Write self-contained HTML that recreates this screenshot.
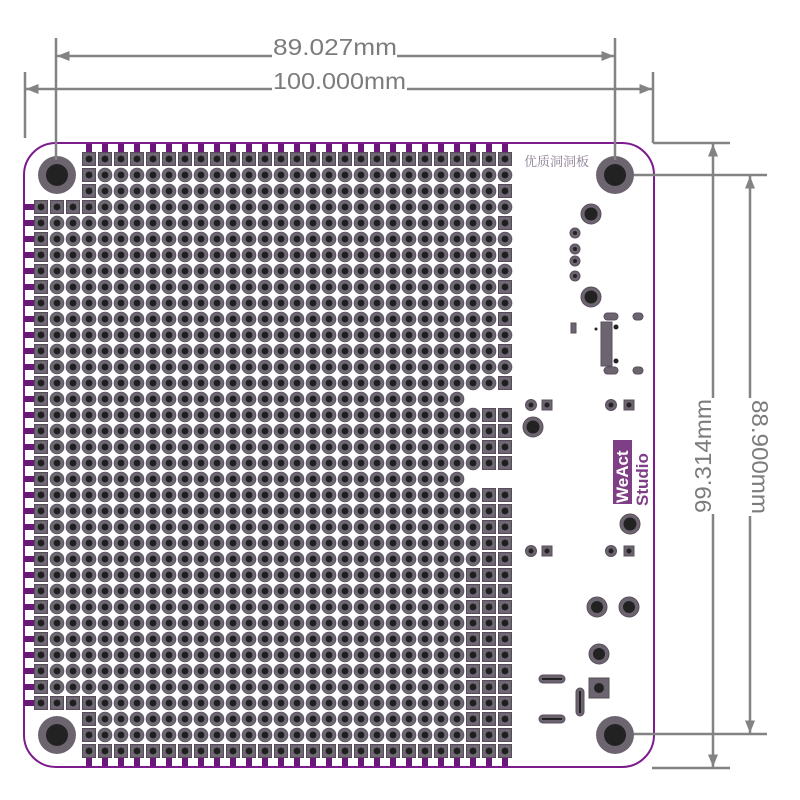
<!DOCTYPE html>
<html><head><meta charset="utf-8"><style>
html,body{margin:0;padding:0;background:#fff;width:800px;height:800px;overflow:hidden}
svg{display:block}
</style></head><body>
<svg id="s" width="800" height="800" viewBox="0 0 800 800" xmlns="http://www.w3.org/2000/svg">
<defs>
<marker id="ar" viewBox="0 0 10 10" refX="10" refY="5" markerWidth="5" markerHeight="5" orient="auto-start-reverse"><path d="M0,1 L10,5 L0,9 z" fill="#838383"/></marker>
</defs>
<rect x="24" y="143" width="630" height="624" rx="32" fill="#fff" stroke="#7b1b8c" stroke-width="2"/>
<g id="tabs" fill="#6a1878"></g>
<g id="pads"></g>
<g fill="#6c6570">
<circle cx="57" cy="175" r="19"/><circle cx="615" cy="175" r="19"/>
<circle cx="57" cy="735" r="19"/><circle cx="615" cy="735" r="19"/>
</g>
<g fill="#222">
<circle cx="57" cy="175" r="11"/><circle cx="615" cy="175" r="11"/>
<circle cx="57" cy="735" r="11"/><circle cx="615" cy="735" r="11"/>
</g>
<text x="524" y="166" font-family="'Noto Serif CJK SC','Noto Sans CJK SC',serif" font-size="13" fill="#8d7d95">优质洞洞板</text>
<g fill="#6c6570" stroke="#5b4f5e" stroke-width="1">
<circle cx="591" cy="214" r="10"/><circle cx="591" cy="297" r="10"/>
<circle cx="575" cy="233" r="5"/><circle cx="575" cy="249" r="5"/><circle cx="575" cy="261" r="5"/><circle cx="575" cy="276" r="5"/>
<circle cx="533" cy="427" r="10"/><circle cx="630" cy="524" r="10"/>
<circle cx="597" cy="607" r="10"/><circle cx="629" cy="607" r="10"/><circle cx="599" cy="654" r="10"/>
<rect x="589" y="678" width="20" height="20"/>
<circle cx="531" cy="405" r="5.5"/><rect x="542" y="400" width="10" height="10"/>
<circle cx="611" cy="405" r="5.5"/><rect x="624" y="400" width="10" height="10"/>
<circle cx="531" cy="551" r="5.5"/><rect x="542" y="546" width="10" height="10"/>
<circle cx="611" cy="551" r="5.5"/><rect x="624" y="546" width="10" height="10"/>
<rect x="539" y="675" width="26" height="8" rx="4"/><rect x="539" y="715" width="26" height="8" rx="4"/>
<rect x="576" y="688" width="8" height="28" rx="4"/>
<rect x="604" y="313" width="14" height="7" rx="3.5"/><rect x="633" y="313" width="10" height="7" rx="3.5"/>
<rect x="604" y="367" width="14" height="7" rx="3.5"/><rect x="633" y="367" width="10" height="7" rx="3.5"/>
<rect x="601" y="322" width="11" height="44"/>
<rect x="571" y="323" width="5" height="10"/>
</g>
<g fill="#222">
<circle cx="591" cy="214" r="6.5"/><circle cx="591" cy="297" r="6.5"/>
<circle cx="575" cy="233" r="2"/><circle cx="575" cy="249" r="2"/><circle cx="575" cy="261" r="2"/><circle cx="575" cy="276" r="2"/>
<circle cx="533" cy="427" r="6.5"/><circle cx="630" cy="524" r="6.5"/>
<circle cx="597" cy="607" r="6"/><circle cx="629" cy="607" r="6"/><circle cx="599" cy="654" r="6"/><circle cx="599" cy="688" r="5"/>
<circle cx="531" cy="405" r="2.5"/><circle cx="547" cy="405" r="2.5"/><circle cx="611" cy="405" r="2.5"/><circle cx="629" cy="405" r="2.5"/>
<circle cx="531" cy="551" r="2.5"/><circle cx="547" cy="551" r="2.5"/><circle cx="611" cy="551" r="2.5"/><circle cx="629" cy="551" r="2.5"/>
<rect x="542" y="678" width="20" height="2"/><rect x="542" y="718" width="20" height="2"/><rect x="579" y="691" width="2" height="22"/>
<circle cx="596" cy="329" r="1.5"/><circle cx="616" cy="327" r="2.5"/><circle cx="616" cy="361" r="2.5"/>
</g>
<rect x="613" y="440" width="19" height="64" fill="#7e3f87"/>
<text transform="translate(628,503) rotate(-90)" font-family="'Liberation Sans',sans-serif" font-weight="bold" font-size="17" fill="#fff">WeAct</text>
<text transform="translate(648,506) rotate(-90)" font-family="'Liberation Sans',sans-serif" font-weight="bold" font-size="17" fill="#7e3f87">Studio</text>
<g stroke="#838383" stroke-width="2.5" fill="none">
<line x1="56" y1="38" x2="56" y2="160"/>
<line x1="615" y1="38" x2="615" y2="160"/>
<line x1="57" y1="56" x2="272" y2="56" marker-start="url(#ar)"/>
<line x1="397" y1="56" x2="614" y2="56" marker-end="url(#ar)"/>
<line x1="25" y1="72" x2="25" y2="138"/>
<line x1="653" y1="72" x2="653" y2="143"/>
<line x1="26" y1="89" x2="272" y2="89" marker-start="url(#ar)"/>
<line x1="407" y1="89" x2="652" y2="89" marker-end="url(#ar)"/>
<line x1="653" y1="143" x2="730" y2="143"/>
<line x1="652" y1="768" x2="730" y2="768"/>
<line x1="634" y1="175" x2="767" y2="175"/>
<line x1="634" y1="734" x2="767" y2="734"/>
<line x1="713" y1="144" x2="713" y2="398" marker-start="url(#ar)"/>
<line x1="713" y1="514" x2="713" y2="767" marker-end="url(#ar)"/>
<line x1="750" y1="176" x2="750" y2="398" marker-start="url(#ar)"/>
<line x1="750" y1="516" x2="750" y2="733" marker-end="url(#ar)"/>
</g>
<g font-family="'Liberation Sans',sans-serif" font-size="23" fill="#7c7c7c">
<text x="273" y="55" textLength="124" lengthAdjust="spacingAndGlyphs">89.027mm</text>
<text x="273" y="89" textLength="133" lengthAdjust="spacingAndGlyphs">100.000mm</text>
<text transform="translate(711,513) rotate(-90)" textLength="114" lengthAdjust="spacingAndGlyphs">99.314mm</text>
<text transform="translate(752,400) rotate(90)" textLength="114" lengthAdjust="spacingAndGlyphs">88.900mm</text>
</g>
</svg>
<script>
var NS="http://www.w3.org/2000/svg";
var pads=document.getElementById("pads"),tabs=document.getElementById("tabs");
function el(p,t,a){var e=document.createElementNS(NS,t);for(var k in a)e.setAttribute(k,a[k]);p.appendChild(e);}
for(var r=0;r<38;r++){for(var c=0;c<30;c++){
 if((r<=2||r>=35)&&c<3)continue;
 if((r==15||r==20)&&c>26)continue;
 var x=41+16*c,y=159+16*r;
 var sq=(c==0)||(r==0)||(r==37)||(r==3&&c<=3)||(r==34&&c<=3)||(c==3&&(r<=3||r>=34))||
   (c>=28&&r>=16&&r<=19)||(c>=28&&r>=21&&r<=25)||(c>=27&&r>=26)||(c==29&&r<=14&&r%2==0);
 if(sq){el(pads,"rect",{x:x-6.5,y:y-6.5,width:13,height:13,fill:"#6e6873",stroke:"#574b5a","stroke-width":1});}
 else{el(pads,"circle",{cx:x,cy:y,r:6.9,fill:"#6e6873",stroke:"#574b5a","stroke-width":0.8});}
 el(pads,"circle",{cx:x,cy:y,r:3.4,fill:"#1f1f1f"});
}}
for(var r=3;r<=34;r++){el(tabs,"rect",{x:24,y:159+16*r-3,width:12,height:6});}
for(var c=3;c<=29;c++){var x=41+16*c;el(tabs,"rect",{x:x-3,y:144,width:6,height:10});el(tabs,"rect",{x:x-3,y:756,width:6,height:10});}
</script>
</body></html>
